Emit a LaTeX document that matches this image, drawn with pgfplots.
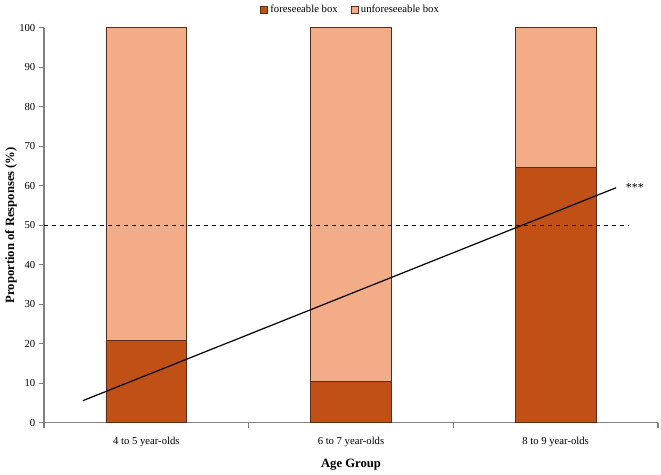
\documentclass[border=0pt]{standalone}
\usepackage{pgfplots}
\pgfplotsset{compat=1.18}
\usepackage{fontspec}
\setmainfont{Liberation Serif}

\definecolor{forecol}{RGB}{192,80,22}
\definecolor{unforecol}{RGB}{242,173,136}
\definecolor{edgecol}{RGB}{90,45,25}
\definecolor{axcol}{RGB}{128,128,128}

\pgfplotsset{
  frame/.style={
    scale only axis,
    width=460.5pt, height=296.25pt,
    xmin=-0.5, xmax=2.5,
    ymin=0, ymax=100,
  }
}

\begin{document}
\begin{tikzpicture}
% fixed page frame around the plot area
\path (-33pt,-39pt) rectangle (462.75pt,317pt);
\begin{axis}[
  frame,
  ybar stacked,
  bar width=0.395,
  ytick={0,10,...,100},
  xtick={0,1,2},
  xticklabels={4 to 5 year-olds, 6 to 7 year-olds, 8 to 9 year-olds},
  minor xtick={-0.5,0.5,1.5,2.5},
  major x tick style={draw=none},
  minor tick length=4pt,
  major tick length=4pt,
  tick align=outside,
  axis x line*=bottom,
  axis y line*=left,
  axis line style={axcol, line width=0.8pt},
  tick style={axcol, line width=0.8pt},
  ticklabel style={font=\fontsize{8}{9}\selectfont},
  /pgf/number format/assume math mode=true,
  yticklabel style={xshift=1pt},
  xticklabel style={yshift=-3.5pt},
  ylabel={\textbf{Proportion of Responses (\%)}},
  xlabel={\textbf{Age Group}},
  label style={font=\fontsize{9.5}{11}\selectfont},
  ylabel style={yshift=-5pt},
  xlabel style={yshift=-2pt},
  legend style={
    at={(0.5,1.0)}, anchor=south, yshift=5.5pt,
    draw=none, fill=none,
    legend columns=2,
    font=\fontsize{8}{9}\selectfont,
    /tikz/every even column/.append style={column sep=8pt},
  },
  legend image code/.code={
    \draw[#1, draw=edgecol, line width=0.5pt] (0pt,-2.5pt) rectangle (5pt,2.5pt);
  },
  legend cell align=left,
  clip=false,
]
\addplot+[ybar, fill=forecol, draw=edgecol, line width=0.5pt]
  coordinates {(0,20.8) (1,10.5) (2,64.6)};
\addlegendentry{foreseeable box}
\addplot+[ybar, fill=unforecol, draw=edgecol, line width=0.5pt]
  coordinates {(0,79.2) (1,89.5) (2,35.4)};
\addlegendentry{unforeseeable box}
\end{axis}

% reference lines on the same scale
\begin{axis}[
  frame,
  hide axis,
  clip=false,
]
% chance level
\addplot[black, dashed, line width=0.6pt, sharp plot]
  coordinates {(-0.5,50) (2.36,50)};
% linear trend
\addplot[black, line width=0.9pt, sharp plot]
  coordinates {(-0.31,5.6) (2.295,59.5)};
\node[anchor=west, font=\fontsize{9}{10}\selectfont] at (axis cs:2.32,59.6) {***};
\end{axis}
\end{tikzpicture}
\end{document}
